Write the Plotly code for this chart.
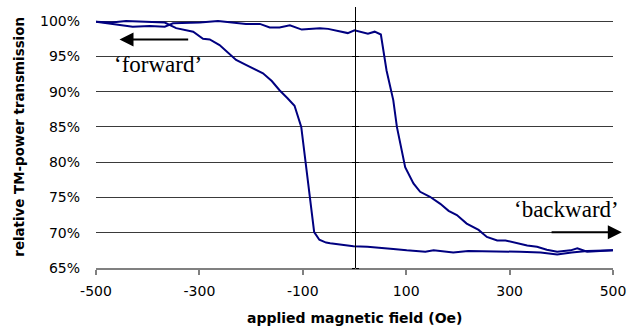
import plotly.graph_objects as go

# Curve A: switching near -100 Oe
field_a = [-500, -470, -442, -400, -367, -345, -312, -293, -280, -261, -245, -229, -210, -195,
           -177, -160, -145, -130, -116, -103, -93, -85, -78, -68, -55, -47, -25, -2, 25, 49,
           75, 101, 121, 137, 153, 172, 191, 220, 243, 280, 320, 360, 392, 420, 450, 500]
trans_a = [99.9, 99.8, 100.0, 99.9, 99.8, 99.0, 98.5, 97.5, 97.4, 96.6, 95.6, 94.5, 93.8, 93.3,
           92.6, 91.5, 90.2, 89.1, 88.0, 85.0, 78.9, 73.5, 70.1, 69.0, 68.6, 68.5, 68.3, 68.1, 68.0, 67.9,
           67.7, 67.5, 67.4, 67.3, 67.5, 67.3, 67.2, 67.4, 67.4, 67.3, 67.3, 67.2, 66.9, 67.2, 67.4, 67.5]

# Curve B: switching near +60 Oe
field_b = [-500, -470, -429, -396, -367, -351, -320, -299, -264, -235, -210, -183, -164, -145,
           -125, -102, -85, -67, -51, -32, -13, 0, 13, 26, 39, 51, 62, 75, 82, 88, 98, 114, 127,
           146, 166, 182, 198, 217, 240, 256, 276, 292, 308, 334, 353, 372, 392, 418, 431, 450, 475, 500]
trans_b = [99.9, 99.6, 99.2, 99.3, 99.2, 99.7, 99.7, 99.8, 100.0, 99.8, 99.6, 99.6, 99.1, 99.1,
           99.4, 98.8, 98.9, 99.0, 98.9, 98.6, 98.3, 98.7, 98.4, 98.2, 98.5, 98.1, 93.0, 88.8, 85.0, 82.7, 79.3, 77.0, 75.8,
           75.1, 74.1, 73.1, 72.5, 71.3, 70.4, 69.4, 68.9, 68.9, 68.6, 68.2, 68.0, 67.6, 67.3, 67.5, 67.8, 67.3, 67.4, 67.5]

x_ticks = [-500, -300, -100, 100, 300, 500]
y_ticks = [65, 70, 75, 80, 85, 90, 95, 100]
y_ticktext = [f"{v}%" for v in y_ticks]

LINE = "#000080"
FONT = "DejaVu Sans"
yr = [65, 102]

fig = go.Figure()
fig.add_trace(go.Scatter(x=field_a, y=trans_a, mode="lines", line=dict(color=LINE, width=2),
                         yaxis="y", showlegend=False, hoverinfo="skip"))
fig.add_trace(go.Scatter(x=field_b, y=trans_b, mode="lines", line=dict(color=LINE, width=2),
                         yaxis="y2", showlegend=False, hoverinfo="skip"))
fig.add_trace(go.Scatter(x=field_b, y=trans_b, mode="lines", line=dict(color=LINE, width=2),
                         opacity=0, yaxis="y3", showlegend=False, hoverinfo="skip"))

fig.update_layout(
    width=638, height=327,
    margin=dict(l=96, r=25, t=7, b=59),
    plot_bgcolor="white", paper_bgcolor="white",
    font=dict(family=FONT, size=14, color="black"),
    xaxis=dict(range=[-500, 500], tickvals=x_ticks, ticktext=[str(v) for v in x_ticks],
               showgrid=False, zeroline=False, showline=True, linecolor="#808080", linewidth=2,
               ticks="outside", ticklen=5, tickcolor="#808080", tickwidth=1.5,
               tickfont=dict(family=FONT, size=14), ticklabelstandoff=4),
    yaxis=dict(range=yr, tickvals=y_ticks, ticktext=y_ticktext, showgrid=True,
               gridcolor="#3a3a3a", gridwidth=1, zeroline=False, showline=False, ticks="",
               tickfont=dict(family=FONT, size=14), ticklabelstandoff=15),
    yaxis2=dict(range=yr, overlaying="y", anchor="free", position=0.5, side="left",
                tickvals=y_ticks, showticklabels=False, showgrid=False, zeroline=False,
                showline=True, linecolor="black", linewidth=1, ticks="outside", ticklen=3,
                tickcolor="black"),
    yaxis3=dict(range=yr, overlaying="y", anchor="free", position=0.5, side="right",
                tickvals=y_ticks, showticklabels=False, showgrid=False, zeroline=False,
                showline=False, ticks="outside", ticklen=3, tickcolor="black"),
    annotations=[
        dict(text="<b>applied magnetic field (Oe)</b>", xref="paper", yref="paper",
             x=0.5, y=-0.19, xanchor="center", yanchor="middle", showarrow=False,
             font=dict(family=FONT, size=14)),
        dict(text="<b>relative TM-power transmission</b>", xref="paper", yref="paper",
             x=-0.147, y=0.503, xanchor="center", yanchor="middle", showarrow=False,
             textangle=-90, font=dict(family=FONT, size=13.4)),
        dict(text="‘forward’", xref="x", yref="y", x=-380, y=93.9, showarrow=False,
             font=dict(family="Liberation Serif", size=23)),
        dict(text="‘backward’", xref="x", yref="y", x=410, y=73.35, showarrow=False,
             font=dict(family="Liberation Serif", size=23)),
        dict(text="", xref="x", yref="y", x=-454.5, y=97.38, axref="x", ayref="y",
             ax=-318.8, ay=97.38, showarrow=True, arrowhead=2, arrowsize=1.4,
             arrowwidth=2, arrowcolor="black", standoff=0),
        dict(text="", xref="x", yref="y", x=517, y=70.08, axref="x", ayref="y",
             ax=378.3, ay=70.08, showarrow=True, arrowhead=2, arrowsize=1.4,
             arrowwidth=2, arrowcolor="black", standoff=0),
    ],
)

fig.write_html("out.html", config={"displayModeBar": False},
               post_script="document.body.style.margin='0';document.body.style.overflow='hidden';")
